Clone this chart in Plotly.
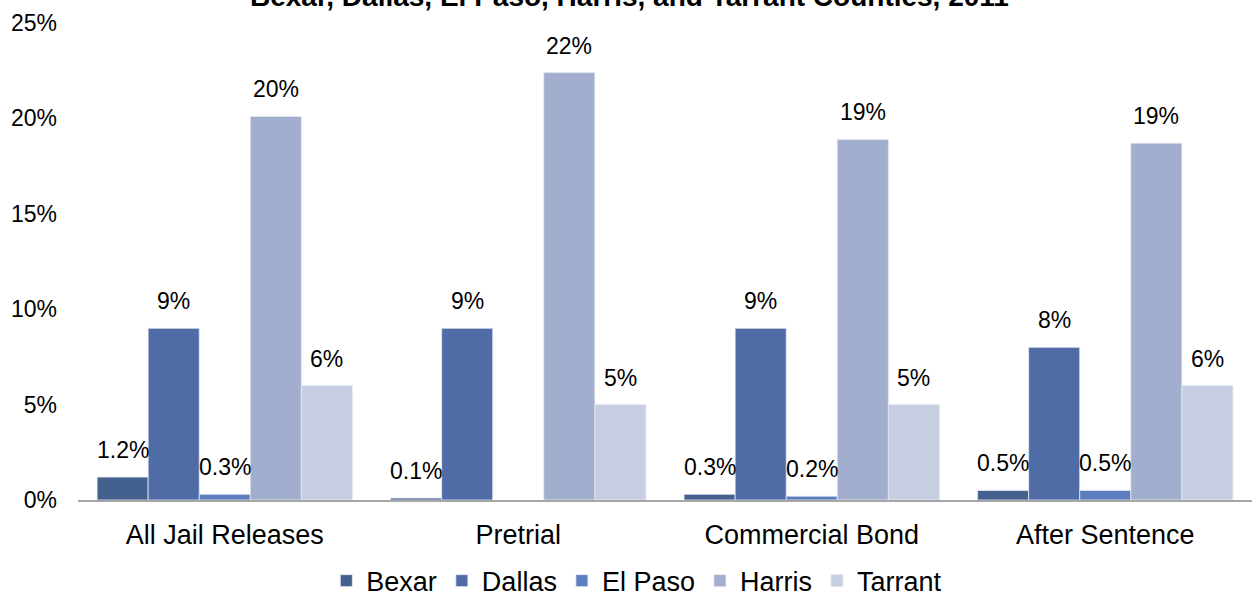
import plotly.graph_objects as go

# Release type groups and county shares of releases (percent)
categories = ["All Jail Releases", "Pretrial", "Commercial Bond", "After Sentence"]
counties = ["Bexar", "Dallas", "El Paso", "Harris", "Tarrant"]
bexar = [1.2, 0.1, 0.3, 0.5]
dallas = [9.0, 9.0, 9.0, 8.0]
el_paso = [0.3, None, 0.2, 0.5]
harris = [20.1, 22.4, 18.9, 18.7]
tarrant = [6.0, 5.0, 5.0, 6.0]
series = [bexar, dallas, el_paso, harris, tarrant]

colors = ["#44608f", "#4f6ca7", "#5a7ebf", "#a2aecd", "#c8cee1"]
FONT = "Liberation Sans, Arial, sans-serif"


def fmt(v):
    # small shares keep one decimal, larger ones are rounded to whole percent
    return f"{v:.1f}%" if v < 2 else f"{v:.0f}%"


fig = go.Figure()
for name, vals, col in zip(counties, series, colors):
    fig.add_trace(go.Bar(
        name=name, x=categories, y=vals,
        marker=dict(color=col, line=dict(color="#e4e8f0", width=0.8)),
    ))

# value labels above each bar
n = len(counties)
bar_px = 293 * (1 - 0.13) / n
for i, vals in enumerate(series):
    for cat, v in zip(categories, vals):
        if v is None:
            continue
        fig.add_annotation(
            x=cat, y=v, xref="x", yref="y",
            xshift=(i - (n - 1) / 2) * bar_px, yshift=12,
            text=fmt(v), showarrow=False, yanchor="bottom",
            font=dict(family=FONT, size=23, color="#000"),
        )

fig.add_annotation(
    text="<b>Bexar, Dallas, El Paso, Harris, and Tarrant Counties, 2011</b>",
    xref="paper", yref="paper", x=0.47, y=1, yshift=27, yanchor="middle",
    showarrow=False, font=dict(family=FONT, size=28, color="#000"),
)

fig.update_layout(
    width=1255, height=596,
    margin=dict(l=78, r=3, t=23, b=96, autoexpand=False),
    paper_bgcolor="white", plot_bgcolor="white",
    barmode="group", bargap=0.13, bargroupgap=0,
    font=dict(family=FONT, size=22, color="#000"),
    showlegend=True,
    legend=dict(orientation="h", x=0.476, xanchor="center", y=-0.170, yanchor="middle",
                font=dict(family=FONT, size=27), itemwidth=30, tracegroupgap=0),
    xaxis=dict(showline=True, linecolor="#a6a6a6", linewidth=2, ticks="",
               ticklabelstandoff=10, automargin=False,
               tickfont=dict(family=FONT, size=27)),
    yaxis=dict(range=[0, 25], dtick=5, ticksuffix="%", showgrid=False,
               zeroline=False, showline=False, ticklabelstandoff=20, automargin=False,
               tickfont=dict(family=FONT, size=23)),
)

fig.write_html("out.html")
